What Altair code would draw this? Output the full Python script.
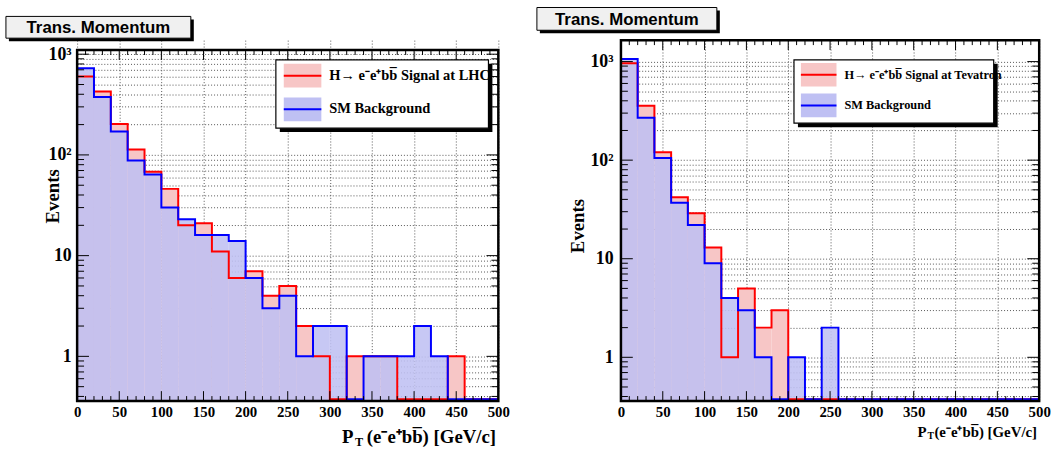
import altair as alt
import pandas as pd

SERIF = "Liberation Serif"
SANS = "Liberation Sans"

# ---- data (20 GeV bins from 0 to 500) ----
BIN_LO = list(range(0, 500, 20))
BIN_HI = list(range(20, 520, 20))

lhc_signal = [600, 426, 203, 113, 68, 46, 20, 21, 11, 6, 7, 4, 5, 2, 1, 0, 1, 1, 1, 0, 0, 0, 1, 0, 0]
lhc_background = [724, 376, 171, 88, 64, 30, 23, 16, 16, 14, 6, 3, 4, 1, 2, 2, 0, 1, 1, 1, 2, 1, 0, 0, 0]

tev_signal = [960, 357, 120, 42, 29, 13, 1, 5, 2, 3, 0, 0, 0, 0, 0, 0, 0, 0, 0, 0, 0, 0, 0, 0, 0]
tev_background = [1060, 269, 105, 37, 22, 9, 4, 3, 1, 0, 1, 0, 2, 0, 0, 0, 0, 0, 0, 0, 0, 0, 0, 0, 0]

x_ticks_major = list(range(0, 501, 50))
x_ticks_minor = [v for v in range(0, 501, 10) if v % 50]
y_ticks = [m * 10 ** e for e in (-1, 0, 1, 2, 3) for m in range(1, 10)]

FLOOR = 0.375
ONE = pd.DataFrame({"k": [0]})

RED = "#ff0000"
BLUE = "#0000ff"
RED_FILL = "#f7c6c6"
BLUE_FILL = "#bfc0f3"


def pix_rect(x0, x1, y0, y1, **kw):
    return alt.Chart(ONE).mark_rect(**kw).encode(
        x=alt.value(x0), x2=alt.value(x1), y=alt.value(y0), y2=alt.value(y1))


def pix_text(x, y, txt, **kw):
    return alt.Chart(ONE).mark_text(**kw).encode(
        x=alt.value(x), y=alt.value(y), text=alt.value(txt))


def pix_rule(x0, x1, y0, y1, **kw):
    return alt.Chart(ONE).mark_rule(**kw).encode(
        x=alt.value(x0), x2=alt.value(x1), y=alt.value(y0), y2=alt.value(y1))


def panel(sig, bkg, W, H, top, ymax, leg, tbox, xt, evt):
    """top = pixel row where this panel's frame begins inside its view."""
    y_min = 0.36
    yt = [v for v in y_ticks if y_min <= v <= ymax]
    xs = alt.Scale(domain=[0, 500], nice=False, zero=False)
    ys = alt.Scale(type="log", domain=[y_min, ymax], nice=False, range=[H, top])

    xaxis = alt.Axis(values=x_ticks_major, grid=True, gridDash=[1, 2], gridColor="#555",
                     gridWidth=1, ticks=False, domain=False, labelFont=SERIF,
                     labelFontWeight="bold", labelFontSize=15, labelColor="black",
                     labelPadding=4, labelFlush=False, title=None)
    yaxis = alt.Axis(values=yt, grid=True, gridDash=[1, 2], gridColor="#555", gridWidth=1,
                     ticks=False, domain=False, labelFont=SERIF, labelFontWeight="bold",
                     labelFontSize=18, labelColor="black", labelPadding=xt["ylabpad"],
                     labelOverlap=False, title=None,
                     labelExpr="datum.value == 1000 ? '10\u00b3' : datum.value == 100 ? '10\u00b2' : datum.value == 10 ? '10' : datum.value == 1 ? '1' : ''")

    bins = pd.DataFrame({"lo": BIN_LO, "hi": BIN_HI, "sig": sig, "bkg": bkg})
    steps = pd.DataFrame({"edge": BIN_LO + [500], "sig": sig + [sig[-1]], "bkg": bkg + [bkg[-1]]})

    red_fill = alt.Chart(bins).transform_filter("datum.sig > 0").mark_rect(
        color=RED_FILL).encode(
        x=alt.X("lo:Q", scale=xs, axis=xaxis), x2="hi:Q",
        y=alt.Y("sig:Q", scale=ys, axis=yaxis), y2=alt.value(H))
    blue_fill = alt.Chart(bins).transform_filter("datum.bkg > 0").mark_rect(
        color=BLUE_FILL, opacity=0.88).encode(
        x=alt.X("lo:Q", scale=xs, axis=xaxis), x2="hi:Q",
        y=alt.Y("bkg:Q", scale=ys, axis=yaxis), y2=alt.value(H))

    sbase = alt.Chart(steps).transform_calculate(
        sd=f"max(datum.sig, {FLOOR})", bd=f"max(datum.bkg, {FLOOR})")
    red_line = sbase.mark_line(interpolate="step-after", color=RED, strokeWidth=2).encode(
        x=alt.X("edge:Q", scale=xs, axis=xaxis), y=alt.Y("sd:Q", scale=ys, axis=yaxis))
    blue_line = sbase.mark_line(interpolate="step-after", color=BLUE, strokeWidth=2).encode(
        x=alt.X("edge:Q", scale=xs, axis=xaxis), y=alt.Y("bd:Q", scale=ys, axis=yaxis))

    # inner tick marks
    xmaj = pd.DataFrame({"t": x_ticks_major})
    xmin = pd.DataFrame({"t": x_ticks_minor})
    ymaj = pd.DataFrame({"t": [v for v in (1, 10, 100, 1000) if v <= ymax]})
    ymin_ = pd.DataFrame({"t": [v for v in yt if v not in (1, 10, 100, 1000)]})
    tk = []
    for df, ln in ((xmaj, 10), (xmin, 5)):
        tk.append(alt.Chart(df).mark_rule(color="black", strokeWidth=1).encode(
            x=alt.X("t:Q", scale=xs, axis=xaxis), y=alt.value(H), y2=alt.value(H - ln)))
        tk.append(alt.Chart(df).mark_rule(color="black", strokeWidth=1).encode(
            x=alt.X("t:Q", scale=xs, axis=xaxis), y=alt.value(top), y2=alt.value(top + ln)))
    for df, ln in ((ymaj, 12), (ymin_, 7)):
        tk.append(alt.Chart(df).mark_rule(color="black", strokeWidth=1).encode(
            y=alt.Y("t:Q", scale=ys, axis=yaxis), x=alt.value(0), x2=alt.value(ln)))
        tk.append(alt.Chart(df).mark_rule(color="black", strokeWidth=1).encode(
            y=alt.Y("t:Q", scale=ys, axis=yaxis), x=alt.value(W - ln), x2=alt.value(W)))

    frame = pix_rect(0, W, top, H, fillOpacity=0, stroke="black", strokeWidth=2.5)

    # legend
    lx0, lx1, ly0, ly1 = leg["box"]
    sx0, sx1 = leg["sw"]
    layers_leg = [
        pix_rect(lx0 + 4, lx1 + 4, ly0 + 4, ly1 + 4, color="black"),
        pix_rect(lx0, lx1, ly0, ly1, fill="white", stroke="black", strokeWidth=1.2),
    ]
    for (yc, fill, col, txt) in ((leg["ry"], RED_FILL, RED, leg["rt"]),
                                 (leg["by"], BLUE_FILL, BLUE, "SM Background")):
        layers_leg.append(pix_rect(sx0, sx1, yc - 12, yc + 12, color=fill))
        layers_leg.append(pix_rule(sx0, sx1, yc, yc, color=col, strokeWidth=2))
        layers_leg.append(pix_text(leg["tx"], yc, txt, align="left", baseline="middle",
                                   font=SERIF, fontWeight="bold", fontSize=leg["fs"],
                                   color="black"))

    # title box
    tx0, tx1, ty0, ty1 = tbox
    title_layers = [
        pix_rect(tx0 + 3, tx1 + 3, ty0 + 3, ty1 + 3, color="black"),
        pix_rect(tx0, tx1, ty0, ty1, fill="#f0f0f0", stroke="black", strokeWidth=1),
        pix_text((tx0 + tx1) / 2, (ty0 + ty1) / 2 + 1, "Trans. Momentum", align="center",
                 baseline="middle", font=SANS, fontWeight="bold", fontSize=17, color="black"),
    ]

    # axis titles
    fs = xt["fs"]
    texts = [
        pix_text(xt["px"], H + xt["dy"], "P", align="left", baseline="middle", font=SERIF,
                 fontWeight="bold", fontSize=fs, color="black"),
        pix_text(xt["tx"], H + xt["dy"] + fs * 0.3, "T", align="left", baseline="middle",
                 font=SERIF, fontWeight="bold", fontSize=fs * 0.65, color="black"),
        pix_text(xt["rx"], H + xt["dy"], "(e\u207be\u207abb\u0305) [GeV/c]", align="left",
                 baseline="middle", font=SERIF, fontWeight="bold", fontSize=fs, color="black"),
        pix_text(evt[0], evt[1], "Events", angle=270, align="center", baseline="middle",
                 font=SERIF, fontWeight="bold", fontSize=19, color="black"),
    ]

    layers = [red_fill, blue_fill, red_line, blue_line] + tk + [frame] + layers_leg + title_layers + texts
    return alt.layer(*layers).properties(width=W, height=H)


# both views share one top row; the left frame starts 10 px lower inside its view
left = panel(
    lhc_signal, lhc_background, W=426, H=365, top=10, ymax=1100,
    leg={"box": (201, 416, 20, 89), "sw": (209, 247), "ry": 36, "by": 70,
         "tx": 255, "fs": 14.6, "rt": "H\u2192 e\u207be\u207abb\u0305 Signal at LHC"},
    tbox=(-72, 115, -24, -2),
    xt={"px": 268, "tx": 281, "rx": 293, "dy": 36, "fs": 19, "ylabpad": 6},
    evt=(-24, 158))

right = panel(
    tev_signal, tev_background, W=423, H=365, top=0, ymax=1650,
    leg={"box": (175, 377, 20, 84), "sw": (182, 218), "ry": 35, "by": 66,
         "tx": 226, "fs": 12.5, "rt": "H\u2192 e\u207be\u207abb\u0305 Signal at Tevatron"},
    tbox=(-85, 97, -33, -10),
    xt={"px": 300, "tx": 310, "rx": 317, "dy": 31, "fs": 15, "ylabpad": 8},
    evt=(-43, 188))

chart = alt.hconcat(left, right, spacing=26).configure_view(stroke=None).properties(
    padding={"left": 5, "top": 4, "right": 5, "bottom": 5}, background="white")

chart.save("out.html", embed_options={"renderer": "svg", "actions": False})
